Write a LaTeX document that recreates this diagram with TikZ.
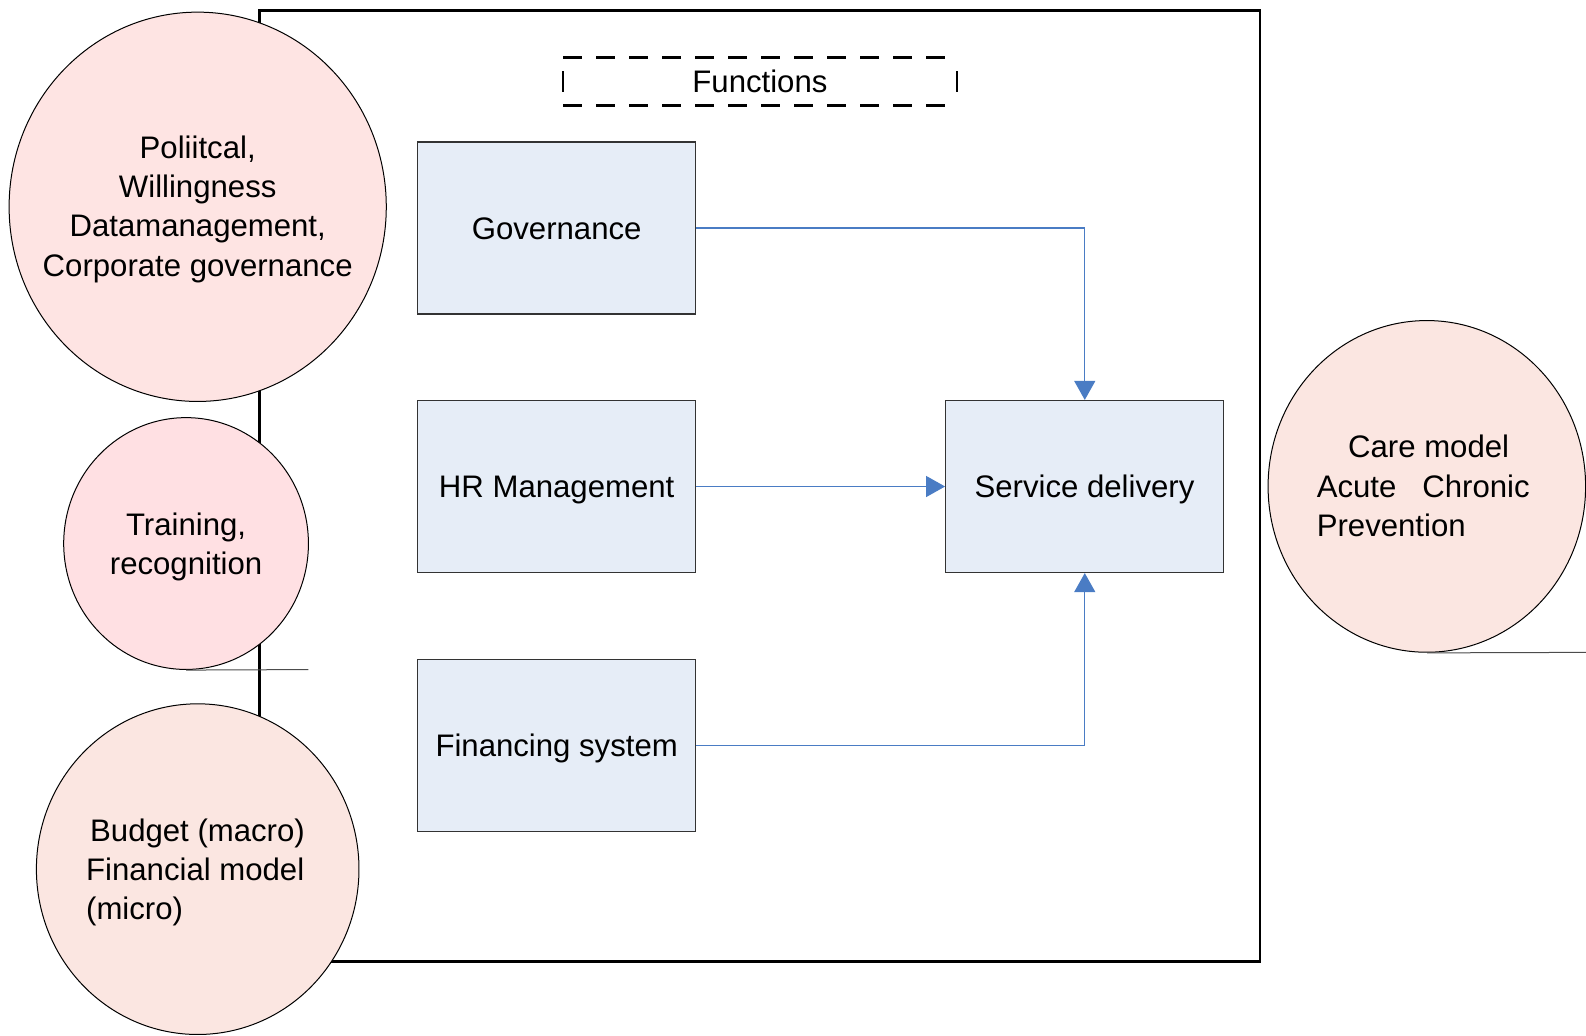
\documentclass[tikz,border=0pt]{standalone}
\usepackage{fontspec}
\setmainfont{Liberation Sans}
\usetikzlibrary{shapes.geometric,arrows.meta}
\definecolor{boxfill}{RGB}{230,237,247}
\definecolor{pinkA}{RGB}{254,228,227}
\definecolor{pinkB}{RGB}{255,224,227}
\definecolor{peach}{RGB}{251,230,225}
\definecolor{connblue}{RGB}{74,124,196}
\begin{document}
\begin{tikzpicture}[x=1pt,y=-1pt,scale=1.0112,
  every node/.style={font=\fontsize{30.8}{38.7}\selectfont, transform shape},
  fbox/.style={draw=black!80, line width=1.2pt, fill=boxfill, minimum width=275pt, minimum height=170pt, inner sep=0pt, text height=22.2pt, text depth=0pt},
  blob/.style={ellipse, draw=black, line width=1pt, inner sep=0pt},
  txt/.style={inner sep=0pt},
  conn/.style={draw=connblue, line width=1.2pt},
  arr/.style={-{Triangle[length=19pt,width=21pt]}},
  tick/.style={draw=black!70, line width=1pt}
]
\useasboundingbox (0,0) rectangle (1568.4,1024.5);
\draw[line width=2.8pt] (257,10) rectangle (1246,951);

% function boxes
\node[fbox] (gov) at (550.5,225.5) {Governance};
\node[fbox] (hr) at (550.5,481) {HR Management};
\node[fbox] (fin) at (550.5,737) {Financing system};
\node[fbox] (sd) at (1072.5,481) {Service delivery};

\draw[conn,arr] (gov.east) -| (sd.north);
\draw[conn,arr] (hr.east) -- (sd.west);
\draw[conn,arr] (fin.east) -| (sd.south);

% Functions label
\node[minimum width=389pt, minimum height=47pt, inner sep=0pt, text height=22.2pt, text depth=0pt] (fn) at (751.5,80.5) {Functions};
\draw[line width=2.5pt, dash pattern=on 19pt off 14pt] (fn.north west) -- (fn.north east);
\draw[line width=2.5pt, dash pattern=on 19pt off 14pt] (fn.south west) -- (fn.south east);
\draw[line width=2.5pt] (fn.west) ++(0,-10) -- ++(0,20);
\draw[line width=2.5pt] (fn.east) ++(0,-10) -- ++(0,20);

% side circles
\node[blob, fill=pinkA, minimum width=373pt, minimum height=385pt] (pol) at (195.5,204.5) {};
\node[txt, align=center] (poltxt) at (195.5,207)
  {Poliitcal,\\Willingness\\Datamanagement,\\Corporate governance};

\node[blob, fill=pinkB, minimum width=242pt, minimum height=249pt] (train) at (184,537.5) {};
\node[txt, align=center] (traintxt) at (184,540.5) {Training,\\recognition};
\coordinate (trainend) at (305,662);
\draw[tick] (train.south) -- (trainend);

\node[blob, fill=peach, minimum width=319pt, minimum height=327pt] (bud) at (195.5,859.5) {};
\node[txt, anchor=west, align=left] (budtxt) at (85,863)
  {\hspace*{4pt}Budget (macro)\\Financial model\\(micro)};

\node[blob, fill=peach, minimum width=314pt, minimum height=328pt] (care) at (1411,481) {};
\node[txt, anchor=west, align=left] (caretxt) at (1302,480.5)
  {\hspace*{31pt}Care model\\Acute\ \ \ Chronic\\Prevention};
\coordinate (careend) at (1568,645);
\draw[tick] (care.south) -- (careend);
\end{tikzpicture}
\end{document}
